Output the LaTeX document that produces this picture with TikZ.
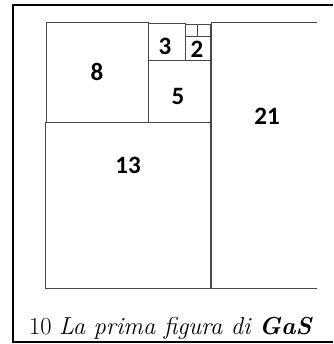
\documentclass[tikz,border=0pt]{standalone}
\usepackage{fontspec}
\newfontfamily\numfont{Carlito}
\tikzset{
  sq/.style={draw=black!72, line width=1pt},
  num/.style={font=\numfont\bfseries\fontsize{25}{25}\selectfont, inner sep=0pt},
  frame/.style={draw=black, line width=2pt},
}
\begin{document}
\begin{tikzpicture}[x=1pt,y=-1pt]
\useasboundingbox (0,0) rectangle (333,344);
% frame
\draw[frame] (333,5) -- (13,5) -- (13,342) -- (333,342);
% squares
\draw[sq] (46,23) rectangle (148,123);
\draw[sq] (148,24) rectangle (185,61);
\draw[sq] (185,37) rectangle (210,61);
\draw[sq] (185,25) rectangle (197,37);
\draw[sq] (197,25) rectangle (210,37);
\draw[sq] (148,61) rectangle (210,123);
\draw[sq] (45,123) rectangle (210,288);
\draw[sq] (317,23) -- (211,23) -- (211,288) -- (317,288);
% labels
\node[num] (n8) at (97,72) {8};
\node[num] (n3) at (165,46) {3};
\node[num] (n2) at (197,49) {2};
\node[num] (n5) at (178,96) {5};
\node[num] (n21) at (267,116) {21};
\node[num] (n13) at (128,165) {13};
% caption
\node[anchor=base west, inner sep=0pt, font=\fontsize{24.5}{24.5}\selectfont] (cap) at (29,334) {10 \textit{La prima figura di \textbf{GaS}}};
\end{tikzpicture}
\end{document}
